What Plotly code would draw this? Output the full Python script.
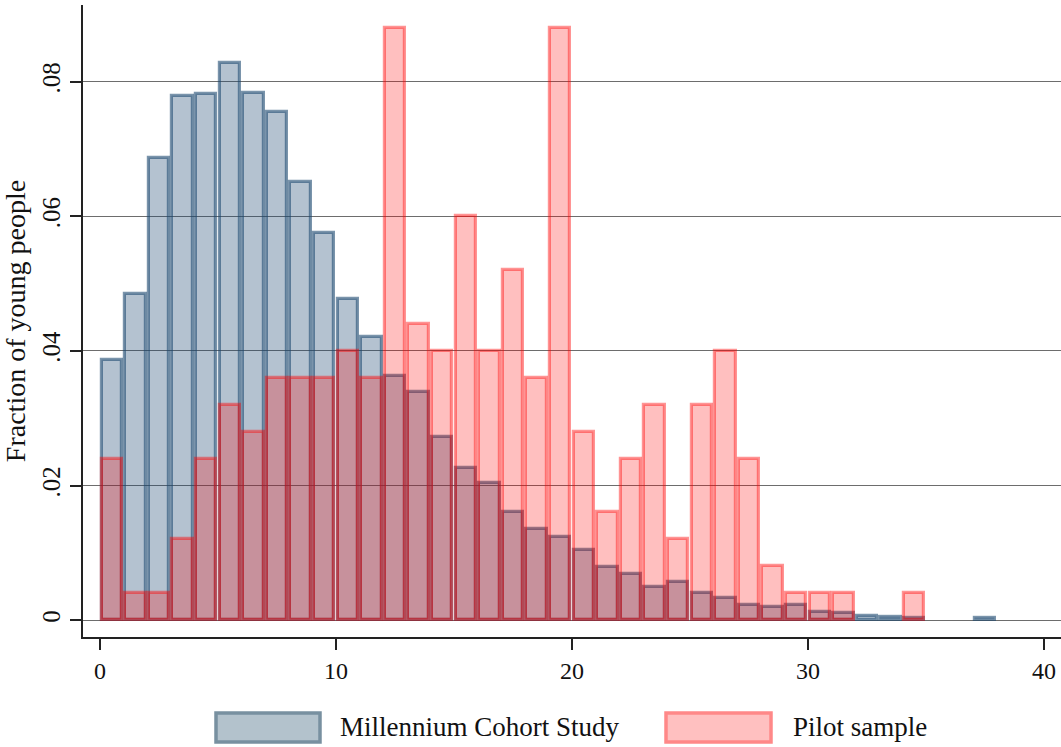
import plotly.graph_objects as go

# Histogram bins: [k, k+1) for k = 0..37 (score), values are fractions
mcs_bins = list(range(0, 38))
mcs_frac = [0.0386, 0.0485, 0.0686, 0.0779, 0.0782, 0.0828, 0.0784, 0.0755, 0.0651, 0.0575,
            0.0477, 0.0420, 0.0363, 0.0339, 0.0272, 0.0226, 0.0204, 0.0161, 0.0135, 0.0124,
            0.0105, 0.0079, 0.0068, 0.0049, 0.0057, 0.0040, 0.0033, 0.0022, 0.0020, 0.0022,
            0.0012, 0.0010, 0.0006, 0.0005, 0.0003, None, None, 0.0003]

pilot_bins = list(range(0, 35))
pilot_frac = [0.024, 0.004, 0.004, 0.012, 0.024, 0.032, 0.028, 0.036, 0.036, 0.036,
              0.040, 0.036, 0.088, 0.044, 0.040, 0.060, 0.040, 0.052, 0.036, 0.088,
              0.028, 0.016, 0.024, 0.032, 0.012, 0.032, 0.040, 0.024, 0.008, 0.004,
              0.004, 0.004, None, None, 0.004]

series_names = ["Millennium Cohort Study", "Pilot sample"]
x_ticks = [0, 10, 20, 30, 40]
y_ticks = [0, 0.02, 0.04, 0.06, 0.08]
y_tick_text = ["0", ".02", ".04", ".06", ".08"]
y_title = "Fraction of young people"

FONT = "Liberation Serif"
BLUE_FILL = "rgba(26,71,111,0.33)"
BLUE_LINE = "rgba(26,71,111,0.58)"
PINK_FILL = "rgba(255,0,0,0.25)"
PINK_LINE = "rgba(255,0,0,0.42)"

fig = go.Figure()
fig.add_trace(go.Bar(
    x=[b + 0.5 for b in mcs_bins], y=mcs_frac, width=0.87, name=series_names[0],
    marker=dict(color=BLUE_FILL, line=dict(color=BLUE_LINE, width=3.2)),
    showlegend=False,
))
fig.add_trace(go.Bar(
    x=[b + 0.5 for b in pilot_bins], y=pilot_frac, width=0.87, name=series_names[1],
    marker=dict(color=PINK_FILL, line=dict(color=PINK_LINE, width=3.2)),
    showlegend=False,
))

W, H = 1061, 747
L, R, T, B = 83, 0, 5, 110
pw, ph = W - L - R, H - T - B


def px(xp):
    return (xp - L) / pw


def py(yp):
    return (H - B - yp) / ph


# manual legend (large swatches like the original)
legend_items = [
    (216, 320, 338, "#B3C2CC", "#7890A0", series_names[0]),
    (666, 771, 791, "#FFC0C0", "#FF8888", series_names[1]),
]
shapes = []
annotations = []
for x0, x1, tx, fill, line, label in legend_items:
    shapes.append(dict(type="rect", xref="paper", yref="paper",
                       x0=px(x0), x1=px(x1), y0=py(742), y1=py(713),
                       fillcolor=fill, line=dict(color=line, width=3.5), layer="above"))
    annotations.append(dict(xref="paper", yref="paper", x=px(tx), y=py(727),
                            xanchor="left", yanchor="middle", text=label, showarrow=False,
                            font=dict(family=FONT, size=27, color="#111")))

fig.update_layout(
    width=W, height=H,
    margin=dict(l=L, r=R, t=T, b=B, pad=0),
    barmode="overlay",
    bargap=0,
    paper_bgcolor="white",
    plot_bgcolor="white",
    font=dict(family=FONT, size=24, color="#111"),
    shapes=shapes,
    annotations=annotations,
    xaxis=dict(
        range=[-0.72, 40.72],
        tickmode="array", tickvals=x_ticks,
        ticks="outside", ticklen=11, tickwidth=1.5, tickcolor="#222",
        showline=True, linecolor="#222", linewidth=1.5,
        showgrid=False, zeroline=False,
        tickfont=dict(family=FONT, size=24, color="#111"),
        ticklabelstandoff=0,
    ),
    yaxis=dict(
        range=[-0.0025, 0.0914],
        tickmode="array", tickvals=y_ticks, ticktext=y_tick_text,
        tickangle=-90,
        ticks="outside", ticklen=11, tickwidth=1.5, tickcolor="#222",
        showline=True, linecolor="#222", linewidth=1.5,
        showgrid=True, gridcolor="rgba(60,60,60,0.75)", gridwidth=1.2,
        zeroline=False,
        tickfont=dict(family=FONT, size=25, color="#111"),
        ticklabelstandoff=0,
        title=dict(text=y_title, font=dict(family=FONT, size=28, color="#111"), standoff=4),
    ),
)

fig.write_html("out.html", config={"displayModeBar": False},
               post_script="document.body.style.margin='0';document.body.style.overflow='hidden';")
